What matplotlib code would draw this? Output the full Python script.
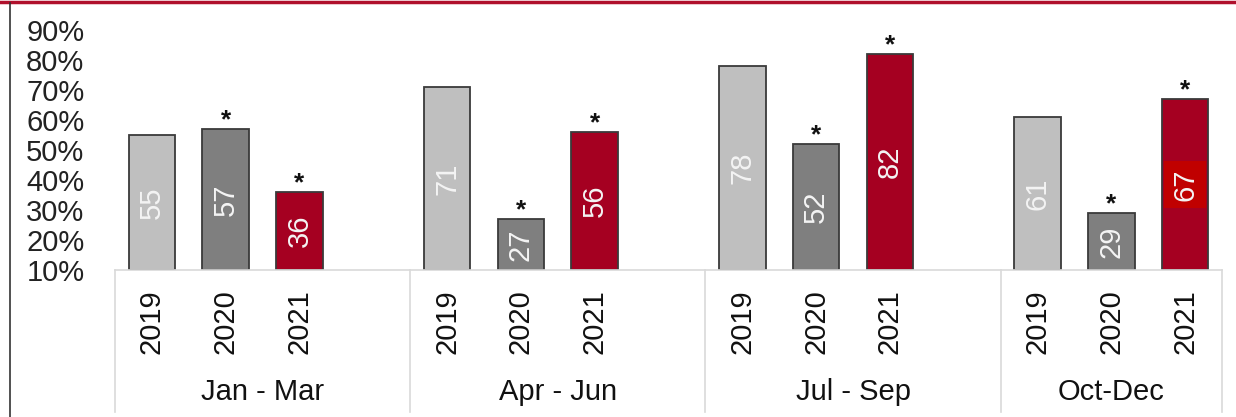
import matplotlib.pyplot as plt
from matplotlib.lines import Line2D

plt.rcParams['font.family'] = ['Liberation Sans', 'DejaVu Sans']

quarters = ['Jan - Mar', 'Apr - Jun', 'Jul - Sep', 'Oct-Dec']
years = ['2019', '2020', '2021']
vals_2019 = [55, 71, 78, 61]
vals_2020 = [57, 27, 52, 29]
vals_2021 = [36, 56, 82, 67]
starred = [False, True, True]   # 2020 and 2021 bars carry an asterisk
yticks = [10, 20, 30, 40, 50, 60, 70, 80, 90]

colors = ['#bfbfbf', '#7f7f7f', '#a50021']
series = [vals_2019, vals_2020, vals_2021]

W, H = 1236, 417
fig = plt.figure(figsize=(W / 100, H / 100), dpi=100)
ax = fig.add_axes([115 / W, (H - 270) / H, (1222 - 115) / W, 240 / H])

fs = 21
for j, (vals, col) in enumerate(zip(series, colors)):
    xs = [4 * g + j for g in range(len(quarters))]
    ax.bar(xs, [v - 10 for v in vals], bottom=10, width=0.63,
           color=col, edgecolor='#3a3a3a', linewidth=1.3, zorder=2)
    for g, (x, v) in enumerate(zip(xs, vals)):
        box = None
        if j == 2 and g == 3:
            box = dict(boxstyle='square,pad=0.25', fc='#c00000', ec='none')
        ax.text(x, (v + 10) / 2, str(v), rotation=90, ha='center', va='center',
                color='#f4f4f4', fontsize=fs, bbox=box, zorder=3)
        if starred[j]:
            ax.annotate('*', (x, v), xytext=(0, 1), textcoords='offset points',
                        ha='center', va='baseline', fontsize=19, fontweight='bold',
                        color='#111111', annotation_clip=False)

ax.set_xlim(-0.5, 14.5)
ax.set_ylim(10, 90)
ax.set_yticks(yticks)
ax.set_yticklabels([f'{t}%' for t in yticks], fontsize=fs, color='#222222')
ax.tick_params(axis='y', length=0, pad=22)
ax.set_xticks([])
for s in ['top', 'right', 'left']:
    ax.spines[s].set_visible(False)
ax.spines['bottom'].set_color('#d9d9d9')
ax.spines['bottom'].set_linewidth(1.2)

# multi-level category axis drawn below the plot
def fx(px):
    return px / W

def fy(py):
    return (H - py) / H

slot = (1222 - 115) / 15
for b in [-0.5, 3.5, 7.5, 11.5, 14.5]:
    xp = 115 + (b + 0.5) * slot
    fig.add_artist(Line2D([fx(xp), fx(xp)], [fy(270), fy(412)], color='#d9d9d9', lw=1.2))

for g, q in enumerate(quarters):
    for j, y in enumerate(years):
        xp = 115 + (4 * g + j + 0.5) * slot
        fig.text(fx(xp), fy(322), y, rotation=90, ha='center', va='center',
                 fontsize=fs, color='#111111')
    n = 4 if g < len(quarters) - 1 else 3
    xc = 115 + (4 * g + n / 2) * slot
    fig.text(fx(xc), fy(392), q, ha='center', va='center', fontsize=fs, color='#111111')

# frame pieces: red rule on top, dark rule on the left
fig.add_artist(Line2D([0, 1], [fy(1.5), fy(1.5)], color='#b0102c', lw=2.5))
fig.add_artist(Line2D([fx(10), fx(10)], [fy(3), 0], color='#333333', lw=1.2))

fig.savefig('out.png', dpi=100)
